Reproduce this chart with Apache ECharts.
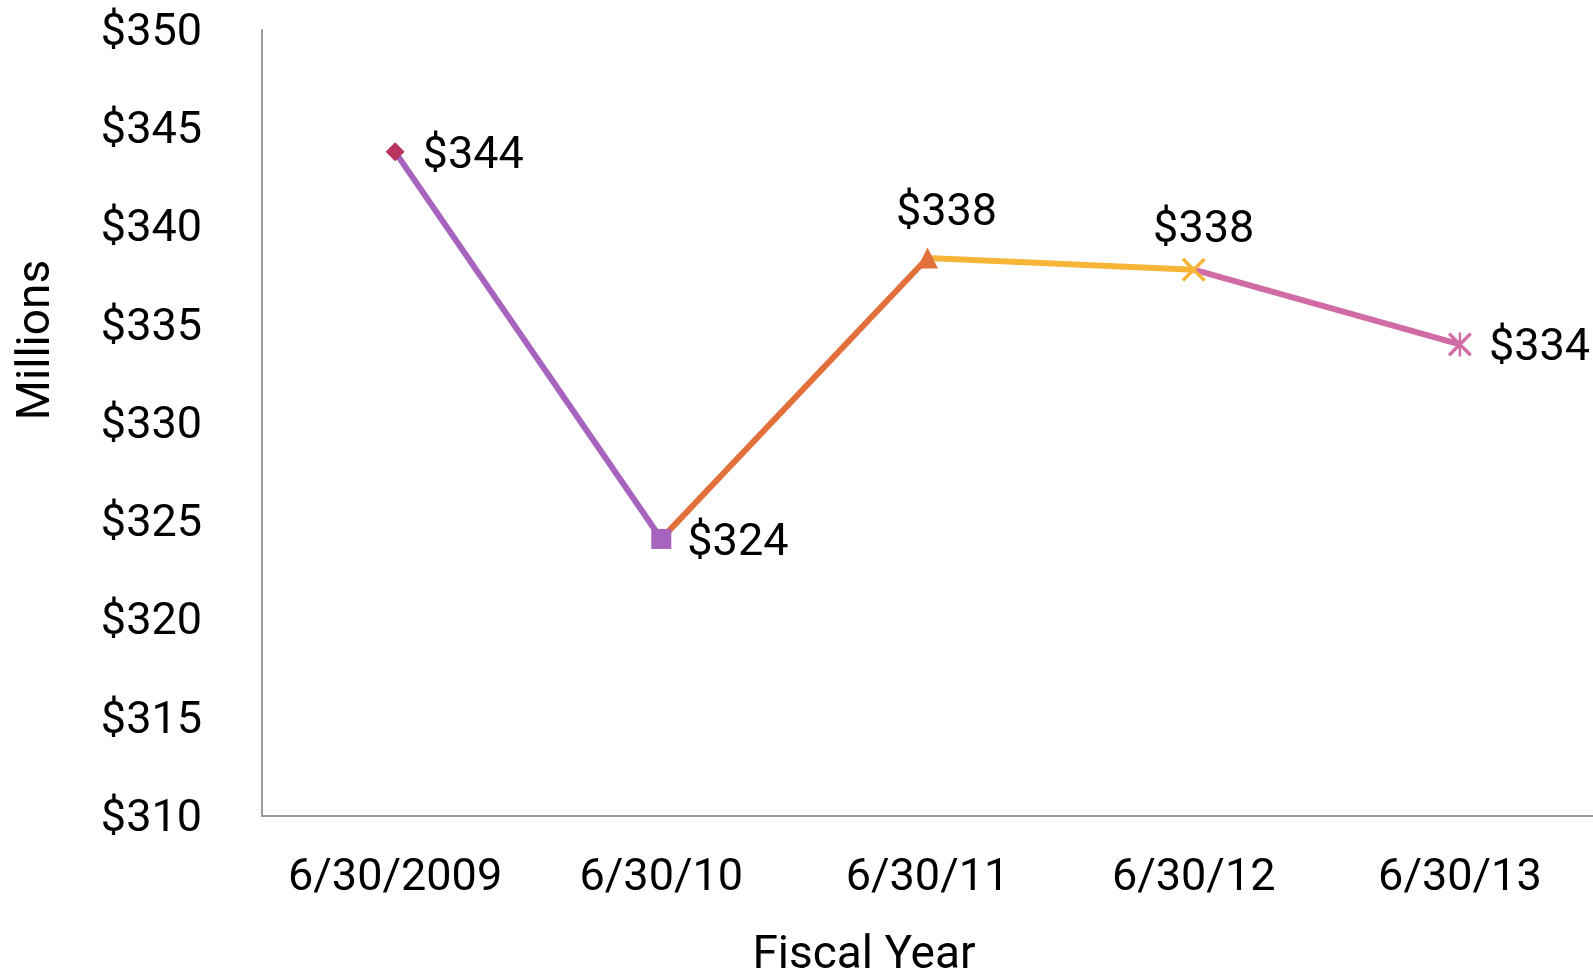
<!DOCTYPE html>
<html>
<head>
<meta charset="utf-8">
<script src="https://cdn.jsdelivr.net/npm/echarts@6/dist/echarts.min.js"></script>
<style>
  html, body { margin: 0; padding: 0; background: #fff; }
  #chart { width: 1593px; height: 975px; }
</style>
</head>
<body>
<div id="chart"></div>
<script>
// 数据
var categories = ['6/30/2009', '6/30/10', '6/30/11', '6/30/12', '6/30/13'];
var values = [343.8, 324.1, 338.4, 337.8, 334.0];
var yTicks = { min: 310, max: 350, interval: 5 };

// 线段颜色 (每段取终点颜色)
var segColors = ['#a764bf', '#e2703a', '#f7b538', '#d16ba5'];
var markerColors = ['#b8345f', '#a764bf', '#e2703a', '#f7b538', '#d16ba5'];
var markerSymbols = [
    'diamond',
    'rect',
    'triangle',
    'path://M0,1 L1,0 L10,9 L9,10 Z M9,0 L10,1 L1,10 L0,9 Z',
    'path://M0,1 L1,0 L10,9 L9,10 Z M9,0 L10,1 L1,10 L0,9 Z M4.5,0 L5.5,0 L5.5,10 L4.5,10 Z'
];
var markerSizes = [19, 20, 21, 24, 24];
var labelPos = ['right', 'right', 'top', 'top', 'right'];
var labelOffset = [[-4, 5], [-6, 5], [19, 11], [10, 18], [-5, 4]];

var font = 'Roboto, "Liberation Sans", sans-serif';
var fontSize = 45;

var series = [];
for (var i = 0; i < values.length - 1; i++) {
    var segData = values.map(function (v, k) {
        return (k === i || k === i + 1) ? v : null;
    });
    series.push({
        type: 'line',
        data: segData,
        symbol: 'none',
        lineStyle: { color: segColors[i], width: 6 },
        silent: true,
        z: 2
    });
}

series.push({
    type: 'line',
    data: values.map(function (v, k) {
        return {
            value: v,
            symbol: markerSymbols[k],
            symbolSize: markerSizes[k],
            itemStyle: { color: markerColors[k] },
            label: { position: labelPos[k], offset: labelOffset[k] }
        };
    }),
    lineStyle: { width: 0, opacity: 0 },
    label: {
        show: true,
        fontFamily: font,
        fontSize: fontSize,
        color: '#000',
        distance: 22,
        formatter: function (p) { return '$' + Math.round(p.value); }
    },
    z: 3
});

var myChart = echarts.init(document.getElementById('chart'));

var option = {
    animation: false,
    backgroundColor: '#fff',
    grid: { left: 262, right: 0, top: 30, bottom: 159 },
    xAxis: {
        type: 'category',
        data: categories,
        boundaryGap: true,
        axisLine: { lineStyle: { color: '#999', width: 2 } },
        axisTick: { show: false },
        axisLabel: { interval: 0, fontFamily: font, fontSize: fontSize, color: '#000', margin: 40 }
    },
    yAxis: {
        type: 'value',
        min: yTicks.min,
        max: yTicks.max,
        interval: yTicks.interval,
        axisLine: { show: true, lineStyle: { color: '#999', width: 2 } },
        axisTick: { show: false },
        splitLine: { show: false },
        axisLabel: {
            color: '#000', margin: 60,
            formatter: '{a|${value}}',
            rich: {
                a: { fontFamily: font, fontSize: fontSize, color: '#000', padding: [7, 0, 0, 0] }
            }
        }
    },
    graphic: [
        {
            type: 'text', x: 864, y: 956,
            style: {
                text: 'Fiscal Year', fontFamily: font, fontSize: 46, fill: '#000',
                align: 'center', verticalAlign: 'middle'
            }
        },
        {
            type: 'text', x: 37, y: 340, rotation: Math.PI / 2,
            style: {
                text: 'Millions', fontFamily: font, fontSize: 46, fill: '#000',
                align: 'center', verticalAlign: 'middle'
            }
        }
    ],
    series: series
};

myChart.setOption(option);
</script>
</body>
</html>
